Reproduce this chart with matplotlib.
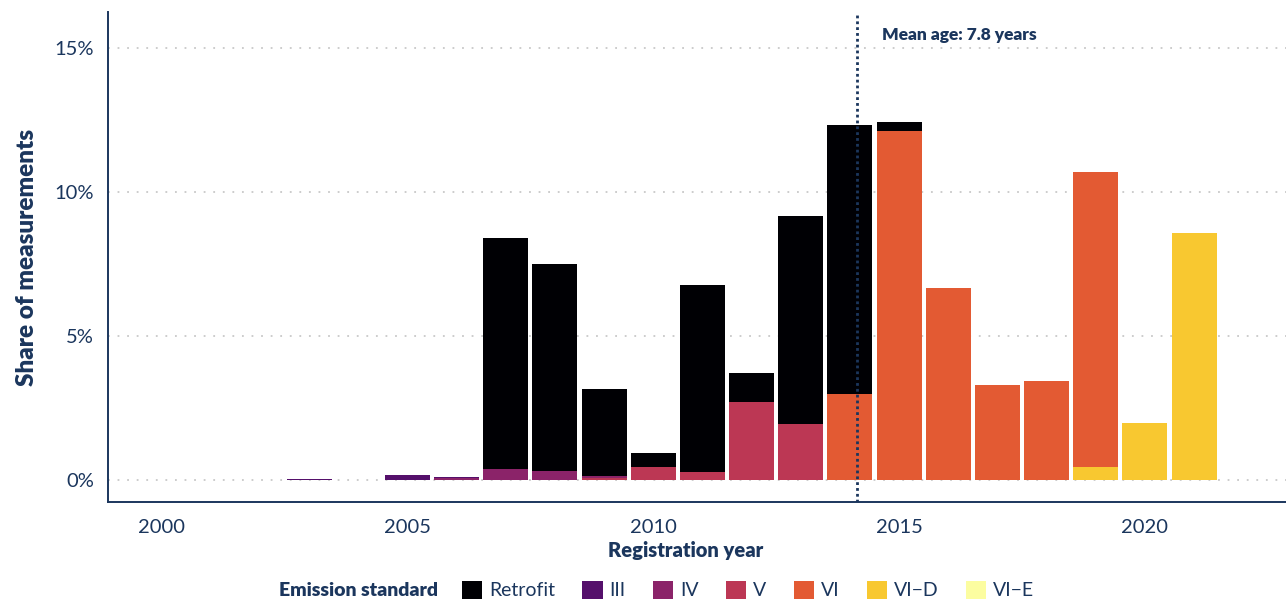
import matplotlib

matplotlib.use("Agg")

import matplotlib.pyplot as plt
import numpy as np
from matplotlib.patches import Patch

plt.rcParams["font.family"] = ["Lato", "DejaVu Sans"]

NAVY = "#1B365D"
GRID = "#C8C8C8"

years = list(range(2003, 2022))
standards = ["Retrofit", "III", "IV", "V", "VI", "VI\u2212D", "VI\u2212E"]
colors = ["#000004", "#55106B", "#8B2369", "#BC3754", "#E35A33", "#F8C830", "#FCFDA0"]

# share of measurements (%) per registration year, 2003..2021
retrofit = [0, 0, 0, 0, 8.03, 7.20, 3.02, 0.49, 6.50, 1.01, 7.22, 9.34, 0.31, 0, 0, 0, 0, 0, 0]
std_iii = [0.04, 0, 0.17, 0.03, 0, 0, 0, 0, 0, 0, 0, 0, 0, 0, 0, 0, 0, 0, 0]
std_iv = [0, 0, 0, 0.08, 0.38, 0.31, 0.06, 0, 0, 0, 0, 0, 0, 0, 0, 0, 0, 0, 0]
std_v = [0, 0, 0, 0, 0, 0, 0.08, 0.45, 0.28, 2.71, 1.95, 0, 0, 0, 0, 0, 0, 0, 0]
std_vi = [0, 0, 0, 0, 0, 0, 0, 0, 0, 0, 0, 2.99, 12.13, 6.67, 3.30, 3.44, 10.25, 0, 0]
std_vid = [0, 0, 0, 0, 0, 0, 0, 0, 0, 0, 0, 0, 0, 0, 0, 0, 0.45, 1.98, 8.58]
std_vie = [0] * len(years)

series = [retrofit, std_iii, std_iv, std_v, std_vi, std_vid, std_vie]
mean_year = 2014.15
mean_label = "Mean age: 7.8 years"

fig = plt.figure(figsize=(12.86, 6.01), dpi=100)
ax = fig.add_axes([108 / 1286, 99 / 601, 1 - 108 / 1286, 490 / 601])

# stack newest standard at the bottom, retrofit on top
bottom = np.zeros(len(years))
for vals, col in zip(series[::-1], colors[::-1]):
    vals = np.array(vals, dtype=float)
    ax.bar(years, vals, bottom=bottom, width=0.915, color=col, linewidth=0, zorder=3)
    bottom += vals

ax.set_xlim(1998.91, 2022.87)
ax.set_ylim(-0.76, 16.26)
ax.set_yticks([0, 5, 10, 15])
ax.set_yticklabels(["0%", "5%", "10%", "15%"])
ax.set_xticks([2000, 2005, 2010, 2015, 2020])
ax.tick_params(axis="both", length=0, labelsize=14.5, labelcolor=NAVY)
ax.tick_params(axis="y", pad=10)
ax.tick_params(axis="x", pad=12)

ax.grid(axis="y", color=GRID, linewidth=1.3, linestyle=(0, (1, 4.3)), zorder=0)
ax.grid(axis="x", visible=False)
for s in ["top", "right"]:
    ax.spines[s].set_visible(False)
for s in ["left", "bottom"]:
    ax.spines[s].set_color(NAVY)
    ax.spines[s].set_linewidth(1.4)

ax.axvline(mean_year, color=NAVY, linewidth=2.0, linestyle=(0, (1, 1.1)), zorder=5)
ax.text(mean_year + 0.5, 15.46, mean_label, ha="left", va="center", fontsize=12.5,
        fontweight="heavy", color=NAVY)

ax.set_ylabel("Share of measurements", fontsize=17.5, fontweight="heavy", color=NAVY, labelpad=12)
ax.set_xlabel("Registration year", fontsize=14.5, fontweight="heavy", color=NAVY)
ax.xaxis.set_label_coords(0.49, -0.08)

# legend row
fig.text(438 / 1286, 1 - 590 / 601, "Emission standard", ha="right", va="center",
         fontsize=14, fontweight="heavy", color=NAVY)
handles = [Patch(facecolor=c, edgecolor="none") for c in colors]
leg = fig.legend(handles, standards, ncol=len(standards), loc="center left",
                 bbox_to_anchor=(462 / 1286, 1 - 590 / 601), frameon=False, fontsize=14,
                 handlelength=1.05, handleheight=1.05, handletextpad=0.35,
                 columnspacing=1.4, borderpad=0, borderaxespad=0)
for t in leg.get_texts():
    t.set_color(NAVY)

fig.savefig("out.png", dpi=100, facecolor="white")
